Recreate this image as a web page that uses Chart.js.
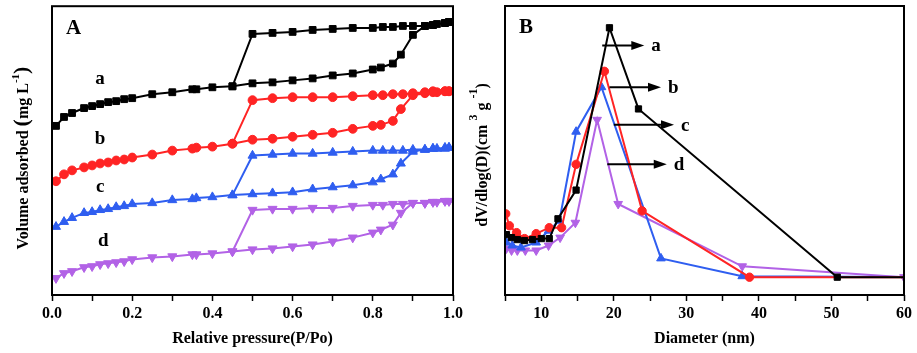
<!DOCTYPE html>
<html>
<head>
<meta charset="utf-8">
<script src="https://cdn.jsdelivr.net/npm/chart.js@4"></script>
<style>
  body { margin: 0; background: #fff; }
  #wrap { position: relative; width: 917px; height: 353px; }
  #boxA { position: absolute; left: 0; top: 0; width: 480px; height: 353px; }
  #boxB { position: absolute; left: 460px; top: 0; width: 457px; height: 353px; }
</style>
</head>
<body>
<div id="wrap">
  <div id="boxA"><canvas id="isoChart" width="480" height="353"></canvas></div>
  <div id="boxB"><canvas id="poreChart" width="457" height="353"></canvas></div>
</div>
<script>
// ---- panel A: isotherms (arbitrary offset units, no y ticks in the figure)
let pAds = [0.01, 0.03, 0.05, 0.08, 0.1, 0.12, 0.14, 0.16, 0.18, 0.2, 0.25, 0.3, 0.35, 0.36, 0.4, 0.45,
            0.5, 0.55, 0.6, 0.65, 0.7, 0.75, 0.8, 0.82, 0.85, 0.87, 0.9, 0.93, 0.95, 0.96, 0.98, 0.99];
let pDes = [0.99, 0.98, 0.95, 0.93, 0.9, 0.875, 0.85, 0.825, 0.8, 0.75, 0.7, 0.65, 0.6, 0.55, 0.5, 0.45];

let aAds = [171, 180, 184, 189, 191, 193, 195, 196, 198, 199, 203, 205, 208, 208, 210, 211,
            214, 215, 217, 219, 222, 224, 228, 230, 234, 243, 263, 272, 273, 274, 275, 276];
let aDes = [276, 275, 273, 272, 272, 272, 271, 271, 270, 270, 269, 268, 266, 265, 264, 211];

let bAds = [115, 122, 126, 129, 131, 133, 134, 136, 137, 139, 142, 146, 148, 149, 150, 153,
            157, 158, 160, 162, 164, 168, 171, 172, 176, 188, 202, 204, 205, 205, 206, 206];
let bDes = [206, 206, 206, 205, 204, 203, 203, 202, 202, 201, 200, 200, 200, 199, 197, 153];

let cAds = [69, 74, 78, 83, 84, 86, 87, 89, 90, 92, 93, 96, 97, 98, 99, 101,
            102, 103, 104, 107, 109, 111, 114, 117, 122, 133, 145, 147, 148, 148, 149, 149];
let cDes = [149, 148, 148, 147, 147, 146, 146, 146, 146, 145, 144, 143, 143, 142, 141, 101];

let dAds = [17, 22, 24, 28, 29, 31, 32, 33, 34, 36, 38, 39, 41, 41, 42, 44,
            46, 47, 49, 51, 54, 58, 63, 66, 71, 83, 93, 93, 94, 94, 95, 95];
let dDes = [95, 95, 94, 93, 93, 92, 92, 91, 91, 90, 88, 88, 87, 87, 86, 44];

// ---- panel B: pore size distribution
let diaA = [5.2, 5.9, 6.7, 7.7, 8.8, 10.0, 11.1, 12.3, 14.8, 19.4, 23.4, 50.8, 62];
let psdA = [61, 58, 56, 55, 56, 57, 57, 77, 106, 270, 188, 18, 18];
let diaB = [5.1, 5.6, 6.6, 7.7, 9.3, 11.1, 12.8, 14.8, 18.7, 23.9, 38.7, 62];
let psdB = [82, 70, 63, 57, 62, 68, 68, 132, 226, 85, 18, 18];
let diaC = [5.2, 6.0, 7.2, 9.3, 11.0, 12.5, 14.8, 18.3, 26.5, 37.7, 62];
let psdC = [53, 50, 48, 53, 65, 75, 165, 210, 37, 19, 18];
let diaD = [5.2, 5.9, 6.7, 7.8, 9.3, 11.0, 12.6, 14.7, 17.7, 20.6, 37.7, 60];
let psdD = [47, 45, 45, 45, 45, 50, 58, 73, 177, 92, 29, 18];

let sampleNames = ['a', 'b', 'c', 'd'];
let sampleColors = ['#000000', '#ff2424', '#2f5ef0', '#b262e6'];

// labels next to the isotherms (data coords) and arrows in panel B
let isoLabelPos = [[0.12, 218], [0.12, 158], [0.12, 109], [0.128, 55]];
let arrowFrom = [18.4, 19.4, 20.0, 19.1];
let arrowTo = [24.2, 26.5, 28.3, 27.3];
let arrowY = [252, 210, 172, 132];

Chart.defaults.font.family = "'Liberation Serif', 'Times New Roman', serif";
Chart.defaults.font.weight = 'bold';
Chart.defaults.color = '#000';

function toPoints(xs, ys) {
  return xs.map(function(x, i) { return {x: x, y: ys[i]}; });
}

function makeDataset(i, points, radius) {
  let styles = ['rect', 'circle', 'triangle', 'triangle'];
  let sizes = [radius + 1.2, radius, radius + 0.8, radius + 0.8];
  return {
    data: points,
    showLine: true,
    borderColor: sampleColors[i],
    backgroundColor: sampleColors[i],
    borderWidth: 2,
    pointStyle: styles[i],
    pointRotation: i == 3 ? 180 : 0,
    pointRadius: sizes[i],
    pointBorderWidth: 1
  };
}

function drawRichVertical(ctx, cx, cy, parts) {
  // measure
  let total = 0;
  parts.forEach(function(p) {
    ctx.font = 'bold ' + p.size + "px 'Liberation Serif'";
    p.w = ctx.measureText(p.text).width;
    total += p.w;
  });
  ctx.save();
  ctx.translate(cx, cy);
  ctx.rotate(-Math.PI / 2);
  ctx.fillStyle = '#000';
  ctx.textBaseline = 'alphabetic';
  let x = -total / 2;
  parts.forEach(function(p) {
    ctx.font = 'bold ' + p.size + "px 'Liberation Serif'";
    ctx.fillText(p.text, x, 6 - (p.rise || 0));
    x += p.w;
  });
  ctx.restore();
}

let framePlugin = {
  id: 'frame',
  afterDraw: function(chart, args, opts) {
    let ctx = chart.ctx;
    let a = chart.chartArea;
    ctx.save();
    ctx.strokeStyle = '#000';
    ctx.lineWidth = 2;
    ctx.strokeRect(a.left, a.top, a.right - a.left, a.bottom - a.top);
    ctx.font = "bold 21px 'Liberation Serif'";
    ctx.fillStyle = '#000';
    ctx.textBaseline = 'middle';
    ctx.fillText(opts.letter, a.left + 14, a.top + 22);
    ctx.restore();
    drawRichVertical(ctx, opts.titleX, opts.titleY, opts.title);
  }
};

let isoLabelsPlugin = {
  id: 'isoLabels',
  afterDatasetsDraw: function(chart) {
    let ctx = chart.ctx;
    let xs = chart.scales.x, ys = chart.scales.y;
    ctx.save();
    ctx.font = "bold 19px 'Liberation Serif'";
    ctx.fillStyle = '#000';
    ctx.textAlign = 'center';
    ctx.textBaseline = 'middle';
    for (let i = 0; i < sampleNames.length; i++) {
      ctx.fillText(sampleNames[i], xs.getPixelForValue(isoLabelPos[i][0]), ys.getPixelForValue(isoLabelPos[i][1]));
    }
    ctx.restore();
  }
};

let arrowsPlugin = {
  id: 'arrows',
  afterDatasetsDraw: function(chart) {
    let ctx = chart.ctx;
    let xs = chart.scales.x, ys = chart.scales.y;
    ctx.save();
    ctx.strokeStyle = '#000';
    ctx.fillStyle = '#000';
    ctx.lineWidth = 2;
    ctx.font = "bold 19px 'Liberation Serif'";
    ctx.textBaseline = 'middle';
    for (let i = 0; i < sampleNames.length; i++) {
      let x1 = xs.getPixelForValue(arrowFrom[i]);
      let x2 = xs.getPixelForValue(arrowTo[i]);
      let y = ys.getPixelForValue(arrowY[i]);
      ctx.beginPath();
      ctx.moveTo(x1, y);
      ctx.lineTo(x2 - 10, y);
      ctx.stroke();
      ctx.beginPath();
      ctx.moveTo(x2, y);
      ctx.lineTo(x2 - 13, y - 4.5);
      ctx.lineTo(x2 - 13, y + 4.5);
      ctx.closePath();
      ctx.fill();
      ctx.fillText(sampleNames[i], x2 + 7, y + 1);
    }
    ctx.restore();
  }
};

function baseOptions(xMin, xMax, step, yWidth, labelFn, xTitle, extra) {
  return {
    responsive: false,
    animation: false,
    events: [],
    layout: { padding: extra.padding },
    scales: {
      x: {
        type: 'linear',
        min: xMin,
        max: xMax,
        afterFit: function(scale) { scale.height = 58; },
        afterBuildTicks: function(scale) {
          let t = [];
          for (let v = xMin; v <= xMax + 1e-9; v += step) t.push({value: Math.round(v * 1000) / 1000});
          scale.ticks = t;
        },
        ticks: {
          autoSkip: false,
          maxRotation: 0,
          padding: 3,
          font: { size: 16, weight: 'bold' },
          callback: labelFn
        },
        grid: { drawOnChartArea: false, tickLength: 6, tickWidth: 1.5, color: '#000' },
        border: { display: false },
        title: {
          display: true,
          text: xTitle,
          font: { size: 16, weight: 'bold' },
          padding: { top: 0, bottom: 5 }
        }
      },
      y: {
        min: 0,
        max: 292,
        afterFit: function(scale) { scale.width = yWidth; },
        ticks: { display: false },
        grid: { display: false },
        border: { display: false }
      }
    },
    plugins: {
      legend: { display: false },
      tooltip: { enabled: false },
      frame: extra.frame
    }
  };
}

// panel A
let isoDatasets = [
  makeDataset(0, toPoints(pAds.concat(pDes), aAds.concat(aDes)), 3.6),
  makeDataset(1, toPoints(pAds.concat(pDes), bAds.concat(bDes)), 4.4),
  makeDataset(2, toPoints(pAds.concat(pDes), cAds.concat(cDes)), 4.4),
  makeDataset(3, toPoints(pAds.concat(pDes), dAds.concat(dDes)), 4.4)
];

new Chart(document.getElementById('isoChart').getContext('2d'), {
  type: 'scatter',
  data: { datasets: isoDatasets },
  options: baseOptions(0, 1, 0.1, 52,
    function(v) { return Math.round(v * 10) % 2 == 0 ? v.toFixed(1) : ''; },
    'Relative pressure(P/Po)',
    {
      padding: { top: 3, right: 27, left: 0, bottom: 0 },
      frame: {
        letter: 'A', titleX: 22, titleY: 158,
        title: [
          {text: 'Volume adsorbed ', size: 16},
          {text: '(', size: 22},
          {text: 'mg L', size: 16},
          {text: '-1', size: 11, rise: 9},
          {text: ')', size: 22}
        ]
      }
    }),
  plugins: [framePlugin, isoLabelsPlugin]
});

// panel B
let poreDatasets = [
  makeDataset(0, toPoints(diaA, psdA), 3.2),
  makeDataset(1, toPoints(diaB, psdB), 4.2),
  makeDataset(2, toPoints(diaC, psdC), 4.2),
  makeDataset(3, toPoints(diaD, psdD), 4.2)
];

new Chart(document.getElementById('poreChart').getContext('2d'), {
  type: 'scatter',
  data: { datasets: poreDatasets },
  options: baseOptions(5, 60, 5, 45,
    function(v) { return v % 10 == 0 ? String(v) : ''; },
    'Diameter (nm)',
    {
      padding: { top: 3, right: 13, left: 0, bottom: 0 },
      frame: {
        letter: 'B', titleX: 21, titleY: 155,
        title: [
          {text: 'dV/dlog(D)(cm ', size: 16},
          {text: '3', size: 12, rise: 10},
          {text: ' g ', size: 16},
          {text: '-1', size: 12, rise: 10},
          {text: ')', size: 16}
        ]
      }
    }),
  plugins: [framePlugin, arrowsPlugin]
});
</script>
</body>
</html>
